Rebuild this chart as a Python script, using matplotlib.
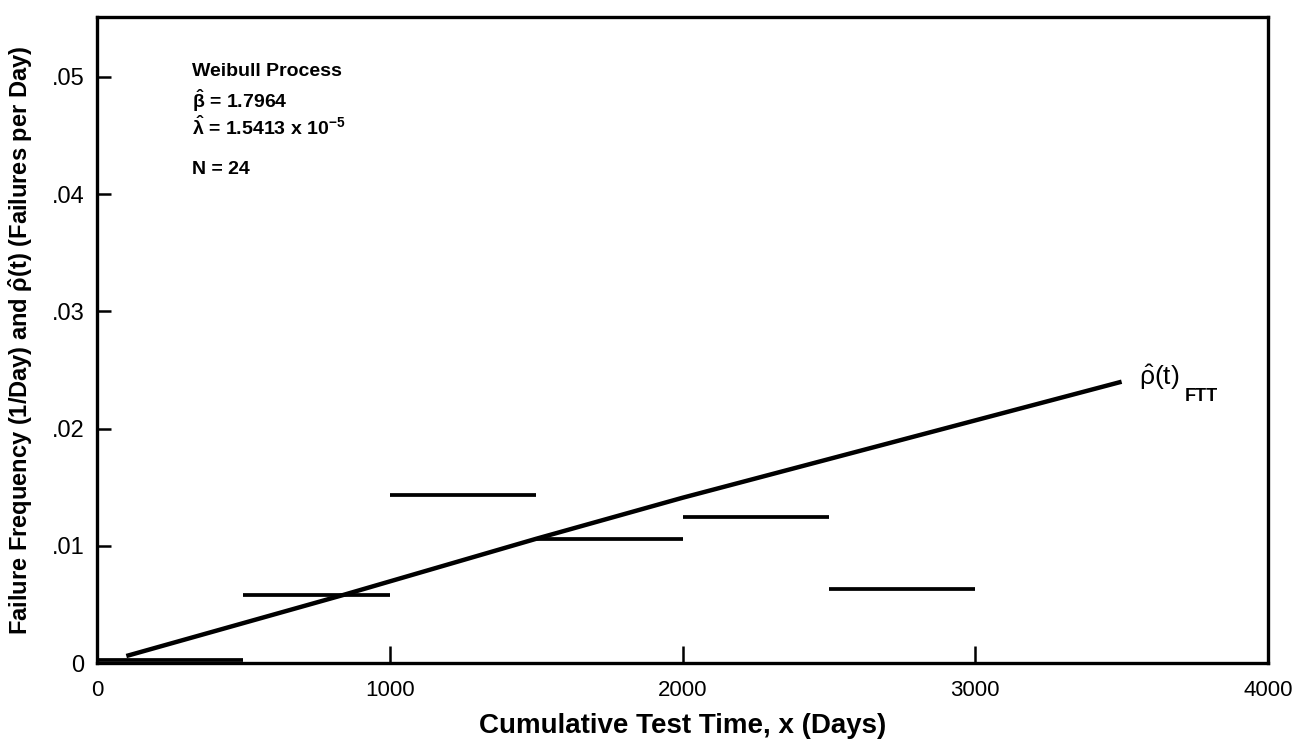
import matplotlib
matplotlib.use("Agg")
import matplotlib.pyplot as plt

plt.rcParams['font.family'] = ['Liberation Sans', 'DejaVu Sans']
plt.rcParams['mathtext.fontset'] = 'custom'
plt.rcParams['mathtext.rm'] = 'Liberation Sans'
plt.rcParams['mathtext.it'] = 'Liberation Sans'
plt.rcParams['mathtext.bf'] = 'Liberation Sans:bold'

# Observed failure frequency per 500-day test interval
interval_start = [0, 500, 1000, 1500, 2000, 2500]
interval_end = [500, 1000, 1500, 2000, 2500, 3000]
failure_freq = [0.0003, 0.0058, 0.0143, 0.0106, 0.0125, 0.0063]

# Fitted Weibull process intensity rho(t)
fit_t = [100, 840, 1500, 2000, 3500]
fit_rho = [0.0006, 0.0058, 0.0106, 0.0141, 0.0240]

xticks = [0, 1000, 2000, 3000, 4000]
xtick_labels = ['0', '1000', '2000', '3000', '4000']
yticks = [0, 0.01, 0.02, 0.03, 0.04, 0.05]
ytick_labels = ['0', '.01', '.02', '.03', '.04', '.05']

fig = plt.figure(figsize=(13.08, 7.45), dpi=100)
ax = fig.add_axes([0.0742, 0.110, 0.8952, 0.867])

ax.hlines(failure_freq, interval_start, interval_end, color='black', linewidth=2.7)
ax.plot(fit_t, fit_rho, color='black', linewidth=3.2, solid_capstyle='butt')

ax.set_xlim(0, 4000)
ax.set_ylim(0, 0.0551)
ax.set_xticks(xticks)
ax.set_xticklabels(xtick_labels)
ax.set_yticks(yticks)
ax.set_yticklabels(ytick_labels)
ax.tick_params(axis='x', direction='in', length=12, width=1.8, pad=12, labelsize=16)
ax.tick_params(axis='y', direction='in', length=10, width=1.8, pad=9, labelsize=17)
for sp in ax.spines.values():
    sp.set_linewidth(2.4)

ax.set_xlabel('Cumulative Test Time, x (Days)', fontsize=20, fontweight='bold', labelpad=9)
ax.set_ylabel(r'Failure Frequency (1/Day) and $\mathbf{\hat{\rho}}$(t) (Failures per Day)',
              fontsize=17, fontweight='bold', labelpad=12)

# parameter block
txt_kw = dict(fontsize=14, fontweight='bold', ha='left', va='center')
ax.text(325, 0.0505, 'Weibull Process', **txt_kw)
ax.text(325, 0.0480, r'$\mathbf{\hat{\beta}}$ = 1.7964', **txt_kw)
ax.text(325, 0.0457, r'$\mathbf{\hat{\lambda}}$ = 1.5413 x 10$^{\mathbf{-5}}$', **txt_kw)
ax.text(325, 0.0421, 'N = 24', **txt_kw)

# curve label
ax.text(3560, 0.0244, r'$\hat{\rho}$(t)', fontsize=19, ha='left', va='center')
ax.text(3715, 0.0227, 'FTT', fontsize=13, fontweight='bold', ha='left', va='center')

fig.savefig('out.png', dpi=100)
